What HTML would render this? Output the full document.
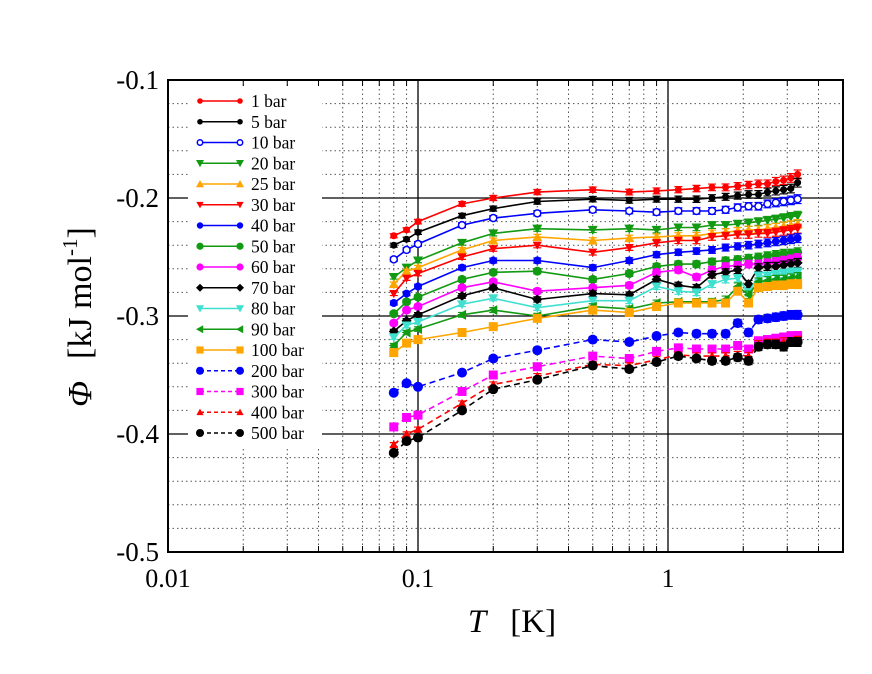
<!DOCTYPE html>
<html><head><meta charset="utf-8">
<style>
html,body{margin:0;padding:0;background:#fff;}
svg{display:block;}
text{font-family:"Liberation Serif",serif;fill:#000;}
</style></head>
<body>
<svg id="chart" width="872" height="674" viewBox="0 0 872 674" xmlns="http://www.w3.org/2000/svg">
<g id="grid"></g>
<g id="series"></g>
<g id="legend"></g>
<g id="axes"></g>
</svg>
<script>
const temps=[0.08,0.09,0.1,0.15,0.2,0.3,0.5,0.7,0.9,1.1,1.3,1.5,1.7,1.9,2.1,2.3,2.5,2.7,2.9,3.1,3.3];
const labels=["1 bar","5 bar","10 bar","20 bar","25 bar","30 bar","40 bar","50 bar","60 bar","70 bar","80 bar","90 bar","100 bar","200 bar","300 bar","400 bar","500 bar"];
const s1=[-.232,-.227,-.220,-.205,-.200,-.195,-.193,-.195,-.194,-.193,-.192,-.191,-.191,-.190,-.189,-.188,-.188,-.186,-.185,-.183,-.180];
const s5=[-.240,-.235,-.229,-.215,-.209,-.203,-.201,-.202,-.201,-.201,-.201,-.200,-.199,-.198,-.197,-.197,-.195,-.194,-.193,-.192,-.187];
const s10=[-.252,-.244,-.239,-.223,-.217,-.213,-.210,-.211,-.212,-.211,-.211,-.211,-.210,-.208,-.207,-.207,-.205,-.204,-.203,-.202,-.201];
const s20=[-.267,-.259,-.253,-.238,-.230,-.226,-.227,-.226,-.227,-.225,-.225,-.223,-.223,-.222,-.221,-.220,-.219,-.218,-.217,-.216,-.215];
const s25=[-.273,-.262,-.259,-.244,-.236,-.233,-.236,-.234,-.233,-.232,-.232,-.230,-.229,-.228,-.227,-.227,-.226,-.225,-.224,-.223,-.222];
const s30=[-.281,-.268,-.264,-.250,-.243,-.240,-.246,-.242,-.238,-.236,-.236,-.233,-.232,-.231,-.231,-.230,-.230,-.229,-.228,-.227,-.226];
const s40=[-.289,-.281,-.275,-.259,-.253,-.253,-.259,-.253,-.248,-.246,-.245,-.244,-.242,-.241,-.240,-.239,-.238,-.237,-.236,-.235,-.234];
const s50=[-.298,-.288,-.284,-.269,-.263,-.262,-.269,-.264,-.258,-.256,-.256,-.254,-.253,-.252,-.251,-.250,-.249,-.248,-.247,-.247,-.246];
const s60=[-.306,-.295,-.292,-.276,-.271,-.279,-.276,-.274,-.263,-.261,-.267,-.261,-.258,-.257,-.256,-.256,-.255,-.254,-.253,-.252,-.251];
const s70=[-.313,-.304,-.299,-.283,-.276,-.286,-.281,-.282,-.269,-.274,-.276,-.265,-.263,-.261,-.273,-.259,-.258,-.258,-.257,-.256,-.255];
const s80=[-.318,-.308,-.305,-.290,-.285,-.293,-.287,-.287,-.275,-.279,-.280,-.273,-.269,-.268,-.280,-.266,-.266,-.265,-.264,-.263,-.263];
const s90=[-.325,-.314,-.311,-.299,-.295,-.300,-.292,-.294,-.289,-.288,-.288,-.288,-.286,-.275,-.282,-.271,-.270,-.269,-.269,-.268,-.267];
const s100=[-.331,-.323,-.320,-.314,-.309,-.302,-.295,-.297,-.292,-.289,-.289,-.289,-.289,-.279,-.289,-.276,-.275,-.274,-.274,-.273,-.273];
const s200=[-.365,-.357,-.360,-.348,-.336,-.329,-.320,-.322,-.317,-.314,-.315,-.315,-.315,-.306,-.314,-.303,-.302,-.301,-.300,-.299,-.299];
const s300=[-.394,-.386,-.384,-.364,-.350,-.343,-.334,-.336,-.330,-.327,-.328,-.328,-.328,-.325,-.328,-.321,-.320,-.319,-.318,-.317,-.317];
const s400=[-.409,-.400,-.396,-.374,-.358,-.351,-.341,-.342,-.337,-.333,-.334,-.334,-.334,-.333,-.334,-.324,-.323,-.323,-.322,-.322,-.321];
const s500=[-.416,-.406,-.403,-.380,-.362,-.354,-.342,-.345,-.339,-.334,-.336,-.338,-.338,-.335,-.338,-.326,-.324,-.324,-.326,-.322,-.322];
const xTicks=[0.01,0.1,1];
const xTickLabels=["0.01","0.1","1"];
const yTicks=[-0.1,-0.2,-0.3,-0.4,-0.5];
const yTickLabels=["-0.1","-0.2","-0.3","-0.4","-0.5"];

const allSeries=[s1,s5,s10,s20,s25,s30,s40,s50,s60,s70,s80,s90,s100,s200,s300,s400,s500];
const colors=["#ff0000","#000000","#0000ff","#129a12","#ffa500","#ff0000","#0000ff","#129a12","#ff00ff","#000000","#40e0d0","#129a12","#ffa500","#0000ff","#ff00ff","#ff0000","#000000"];
const markers=["circle","circle","open","down","up","down","circle","circle","circle","diamond","down","left","square","circle","square","up","circle"];
const msize=[3.5,3.5,4,5,5,4.5,4,4.5,4.5,5,5,5,4.5,5,4.5,4.5,5];
const dashed=[0,0,0,0,0,0,0,0,0,0,0,0,0,1,1,1,1];

const L=168,R=843,T=80,B=552;
const X0=668, DEC=250;
function xs(t){return X0+DEC*Math.log10(t);}
function ys(v){return B-(v+0.5)*1180;}
const NS="http://www.w3.org/2000/svg";
function mk(tag,attrs,parent){const e=document.createElementNS(NS,tag);for(const k in attrs)e.setAttribute(k,attrs[k]);parent.appendChild(e);return e;}

const grid=document.getElementById('grid');
for(let d=-2;d<=0;d++){for(let m=1;m<=9;m++){const t=m*Math.pow(10,d);const x=xs(t);if(x<L||x>R)continue;
  if(m===1&&d>-2){const l=mk('line',{x1:x,y1:T,x2:x,y2:B,stroke:'#000','stroke-width':1.3},grid);}
  else if(m!==1){const l=mk('line',{x1:x,y1:T,x2:x,y2:B,stroke:'#555','stroke-width':1,'stroke-dasharray':'1.5,3'},grid);}}}
for(let i=1;i<20;i++){const v=-0.5+i*0.02;const y=ys(v);
  if(i%5===0){const l=mk('line',{x1:L,y1:y,x2:R,y2:y,stroke:'#000','stroke-width':1.3},grid);}
  else{const l=mk('line',{x1:L,y1:y,x2:R,y2:y,stroke:'#555','stroke-width':1,'stroke-dasharray':'1.5,3'},grid);}}

function marker(g,type,x,y,r,c){
  let e;
  if(type==='circle')e=mk('circle',{cx:x,cy:y,r:r,fill:c},g);
  else if(type==='open')e=mk('circle',{cx:x,cy:y,r:r-0.5,fill:'#fff',stroke:c,'stroke-width':1.5},g);
  else if(type==='square')e=mk('rect',{x:x-r,y:y-r,width:2*r,height:2*r,fill:c},g);
  else if(type==='down')e=mk('polygon',{points:`${x-r},${y-r*0.8} ${x+r},${y-r*0.8} ${x},${y+r}`,fill:c},g);
  else if(type==='up')e=mk('polygon',{points:`${x-r},${y+r*0.8} ${x+r},${y+r*0.8} ${x},${y-r}`,fill:c},g);
  else if(type==='diamond')e=mk('polygon',{points:`${x},${y-r} ${x+r},${y} ${x},${y+r} ${x-r},${y}`,fill:c},g);
  else if(type==='left')e=mk('polygon',{points:`${x-r},${y} ${x+r*0.8},${y-r} ${x+r*0.8},${y+r}`,fill:c},g);
  return e;
}

const sg=document.getElementById('series');
allSeries.forEach((vals,si)=>{
  const g=mk('g',{},sg);
  
  
  const pts=vals.map((v,i)=>xs(temps[i]).toFixed(1)+','+ys(v).toFixed(1)).join(' ');
  const pl=mk('polyline',{points:pts,fill:'none',stroke:colors[si],'stroke-width':1.6},g);
  if(dashed[si])pl.setAttribute('stroke-dasharray','6,4');
  
  
  vals.forEach((v,i)=>{
    const x=xs(temps[i]),y=ys(v);
    const eb=2+i*0.12;
    const e1=mk('path',{d:`M${x},${y-eb}V${y+eb}M${x-4},${y-eb}H${x+4}M${x-4},${y+eb}H${x+4}`,stroke:colors[si],'stroke-width':1.2,fill:'none'},g);
    
    
    const m=marker(g,markers[si],x,y,msize[si],colors[si]);
    
    
  });
});

const lg=document.getElementById('legend');
const bg=mk('rect',{x:188,y:88,width:134,height:359,fill:'#fff'},lg);


labels.forEach((lab,si)=>{
  const y=101+si*20.75;
  const g=mk('g',{},lg);
  
  
  const ln=mk('line',{x1:200,y1:y,x2:240,y2:y,stroke:colors[si],'stroke-width':1.5},g);
  if(dashed[si])ln.setAttribute('stroke-dasharray','4,3');
  marker(g,markers[si],200,y,msize[si]*0.8,colors[si]);
  marker(g,markers[si],240,y,msize[si]*0.8,colors[si]);
  const t=mk('text',{x:251,y:y+6,'font-size':17.5},g);
  t.textContent=lab;
});

const ax=document.getElementById('axes');
const fr=mk('rect',{x:L,y:T,width:R-L,height:B-T,fill:'none',stroke:'#000','stroke-width':2},ax);


xTicks.forEach((t,i)=>{
  const tx=mk('text',{x:xs(t),y:587,'font-size':26,'text-anchor':'middle'},ax);
  
  
  tx.textContent=xTickLabels[i];
});
yTicks.forEach((v,i)=>{
  const tx=mk('text',{x:159,y:ys(v)+9,'font-size':27,'text-anchor':'end'},ax);
  
  
  tx.textContent=yTickLabels[i];
});
for(let d=-2;d<=0;d++){for(let m=2;m<=9;m++){const x=xs(m*Math.pow(10,d));if(x>R)continue;
  mk('line',{x1:x,y1:T,x2:x,y2:T+6,stroke:'#000','stroke-width':1},ax);
  mk('line',{x1:x,y1:B,x2:x,y2:B-6,stroke:'#000','stroke-width':1},ax);}}
const xt=mk('text',{x:512,y:632,'font-size':33,'text-anchor':'middle'},ax);


xt.innerHTML='<tspan font-style="italic">T</tspan><tspan dx="24">[K]</tspan>';
const yt=mk('text',{x:0,y:0,'font-size':34,'text-anchor':'middle',transform:'translate(91,317) rotate(-90)'},ax);


yt.innerHTML='<tspan font-style="italic">Φ</tspan><tspan dx="22">[kJ mol</tspan><tspan font-size="21" dy="-14">-1</tspan><tspan dy="14">]</tspan>';
</script>
</body></html>
